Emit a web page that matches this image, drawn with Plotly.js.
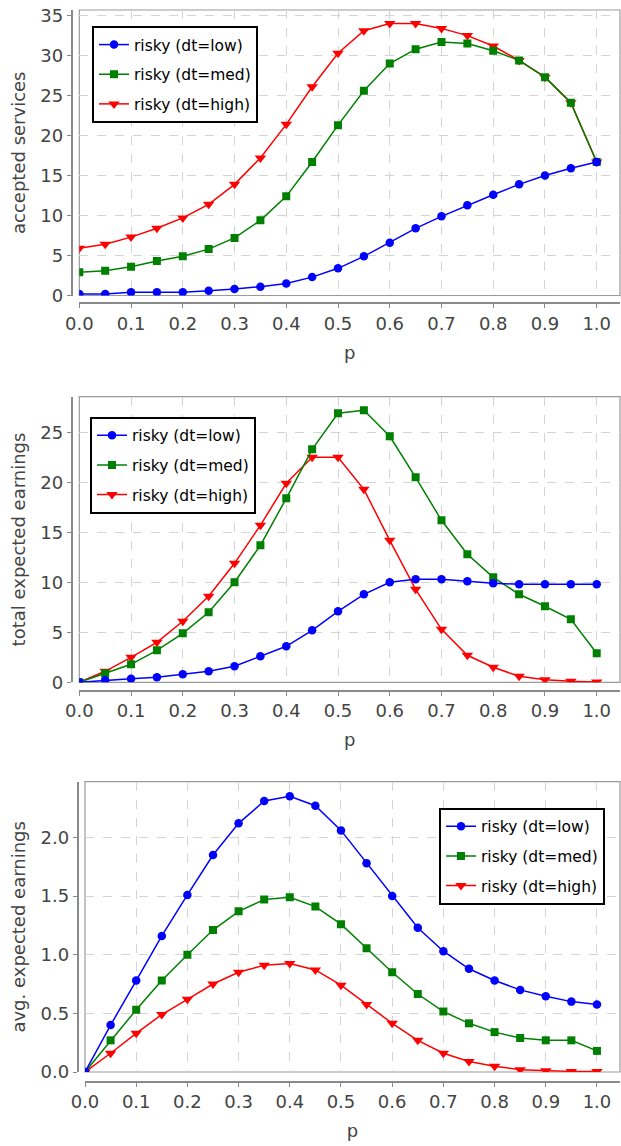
<!DOCTYPE html>
<html>
<head>
<meta charset="utf-8">
<script src="https://cdn.plot.ly/plotly-3.0.1.min.js"></script>
<style>
  html, body { margin: 0; padding: 0; background: #ffffff; }
  #chart { width: 621px; height: 1146px; }
</style>
</head>
<body>
<div id="chart"></div>
<script>
// probability of a risky choice
const pValues = [0.00, 0.05, 0.10, 0.15, 0.20, 0.25, 0.30, 0.35, 0.40, 0.45, 0.50,
                 0.55, 0.60, 0.65, 0.70, 0.75, 0.80, 0.85, 0.90, 0.95, 1.00];

const seriesNames = ['risky (dt=low)', 'risky (dt=med)', 'risky (dt=high)'];

// accepted services
const acceptedLow  = [0.2, 0.2, 0.4, 0.4, 0.4, 0.6, 0.8, 1.1, 1.5, 2.3, 3.4,
                      4.9, 6.6, 8.4, 9.9, 11.3, 12.6, 13.9, 15.0, 15.9, 16.7];
const acceptedMed  = [2.9, 3.1, 3.6, 4.3, 4.9, 5.8, 7.2, 9.4, 12.4, 16.7, 21.3,
                      25.6, 29.0, 30.8, 31.7, 31.5, 30.6, 29.4, 27.3, 24.1, 16.7];
const acceptedHigh = [5.9, 6.4, 7.3, 8.4, 9.7, 11.4, 13.9, 17.2, 21.4, 26.1, 30.3,
                      33.1, 34.0, 34.0, 33.4, 32.5, 31.2, 29.4, 27.3, 24.1, 16.7];

// total expected earnings
const totalLow  = [0.0, 0.2, 0.35, 0.5, 0.8, 1.1, 1.6, 2.6, 3.6, 5.2, 7.1,
                   8.8, 10.0, 10.3, 10.3, 10.1, 9.9, 9.8, 9.8, 9.8, 9.8];
const totalMed  = [0.0, 0.9, 1.8, 3.2, 4.9, 7.0, 10.0, 13.7, 18.4, 23.3, 26.9,
                   27.2, 24.6, 20.5, 16.2, 12.8, 10.5, 8.8, 7.6, 6.3, 2.9];
const totalHigh = [0.0, 1.1, 2.5, 4.0, 6.1, 8.6, 11.9, 15.7, 19.9, 22.5, 22.5,
                   19.3, 14.2, 9.3, 5.3, 2.7, 1.5, 0.6, 0.25, 0.1, 0.03];

// avg. expected earnings
const avgLow  = [0.0, 0.40, 0.78, 1.16, 1.51, 1.85, 2.12, 2.31, 2.35, 2.27, 2.06,
                 1.78, 1.50, 1.23, 1.03, 0.88, 0.78, 0.70, 0.645, 0.60, 0.575];
const avgMed  = [0.0, 0.27, 0.53, 0.78, 1.00, 1.21, 1.37, 1.47, 1.49, 1.41, 1.26,
                 1.055, 0.85, 0.665, 0.515, 0.415, 0.34, 0.29, 0.27, 0.27, 0.18];
const avgHigh = [0.0, 0.16, 0.33, 0.49, 0.62, 0.75, 0.85, 0.91, 0.925, 0.87, 0.74,
                 0.575, 0.415, 0.27, 0.16, 0.09, 0.05, 0.02, 0.01, 0.005, 0.005];

const W = 621, H = 1146;
const FONT = 'DejaVu Sans, sans-serif';
const TICK_GREY = '#444444';
const AXIS_GREY = '#8a8a8a';

const styles = [
  { color: '#0000ff', symbol: 'circle',        size: 8.5 },
  { color: '#008000', symbol: 'square',        size: 8 },
  { color: '#ff0000', symbol: 'triangle-down', size: 10 }
];

function line(y, idx, xa, ya, legendId) {
  const s = styles[idx];
  return {
    type: 'scatter', mode: 'lines+markers',
    x: pValues, y: y, name: seriesNames[idx],
    xaxis: xa, yaxis: ya, legend: legendId,
    legendrank: idx + 1, legendgroup: legendId + '-' + idx,
    line: { color: s.color, width: 1.5 },
    marker: { color: s.color, symbol: s.symbol, size: s.size, line: { width: 0 } },
    hoverinfo: 'x+y+name'
  };
}

// pixel helpers for placing panels on the page
const px = v => v / W;
const py = v => 1 - v / H;

function xAxis(left, bottomLine, title) {
  return {
    domain: [px(left), px(620)], range: [0, 1.045],
    anchor: 'free', position: py(bottomLine),
    tick0: 0, dtick: 0.1, tickformat: '.1f',
    showline: true, linecolor: AXIS_GREY, linewidth: 2,
    ticks: 'outside', ticklen: 4, tickcolor: AXIS_GREY, tickwidth: 1,
    tickfont: { family: FONT, size: 18, color: TICK_GREY },
    showgrid: true, gridcolor: '#d4d4d4', griddash: 'dash', gridwidth: 1,
    zeroline: false, fixedrange: true,
    title: { text: title, font: { family: FONT, size: 18, color: TICK_GREY }, standoff: 12 }
  };
}

function yAxis(axisLineX, top, bottom, maxVal, dtick, fmt, title) {
  return {
    domain: [py(bottom), py(top)], range: [0, maxVal],
    anchor: 'free', position: px(axisLineX),
    tick0: 0, dtick: dtick, tickformat: fmt,
    showline: true, linecolor: AXIS_GREY, linewidth: 2,
    ticks: 'outside', ticklen: 4, tickcolor: AXIS_GREY, tickwidth: 1,
    tickfont: { family: FONT, size: 18, color: TICK_GREY },
    showgrid: true, gridcolor: '#d4d4d4', griddash: 'dash', gridwidth: 1,
    zeroline: false, fixedrange: true,
    title: { text: title, font: { family: FONT, size: 18, color: TICK_GREY }, standoff: 9 }
  };
}

function legendBox(x, y) {
  return {
    x: x, y: y, xanchor: 'left', yanchor: 'top', xref: 'paper', yref: 'paper',
    bgcolor: '#ffffff', bordercolor: '#000000', borderwidth: 2,
    font: { family: FONT, size: 15.5, color: '#000000' },
    traceorder: 'grouped', tracegroupgap: 6.5, itemclick: false, itemdoubleclick: false
  };
}

function frame(xa, ya) {
  return {
    type: 'rect', xref: xa + ' domain', yref: ya + ' domain',
    x0: 0, x1: 1, y0: 0, y1: 1, layer: 'below',
    line: { color: '#9a9a9a', width: 1.2 }
  };
}

// red drawn first, blue last, so low-risk markers sit on top
const data = [
  line(acceptedHigh, 2, 'x', 'y', 'legend'),
  line(acceptedMed,  1, 'x', 'y', 'legend'),
  line(acceptedLow,  0, 'x', 'y', 'legend'),
  line(totalHigh, 2, 'x2', 'y2', 'legend2'),
  line(totalMed,  1, 'x2', 'y2', 'legend2'),
  line(totalLow,  0, 'x2', 'y2', 'legend2'),
  line(avgHigh, 2, 'x3', 'y3', 'legend3'),
  line(avgMed,  1, 'x3', 'y3', 'legend3'),
  line(avgLow,  0, 'x3', 'y3', 'legend3')
];

const layout = {
  width: W, height: H,
  margin: { l: 0, r: 0, t: 0, b: 0, pad: 0 },
  paper_bgcolor: '#ffffff', plot_bgcolor: '#ffffff',
  font: { family: FONT, color: TICK_GREY },
  showlegend: true,
  xaxis:  xAxis(79.3, 303.3, 'p'),
  yaxis:  yAxis(71.7, 10, 295.5, 35.7, 5, 'd', 'accepted services'),
  xaxis2: xAxis(79.3, 690.7, 'p'),
  yaxis2: yAxis(71.7, 396.7, 682.3, 28.56, 5, 'd', 'total expected earnings'),
  xaxis3: xAxis(85, 1081.5, 'p'),
  yaxis3: yAxis(77.7, 781.7, 1072, 2.475, 0.5, '.1f', 'avg. expected earnings'),
  legend:  legendBox(px(92), py(26)),
  legend2: legendBox(px(90), py(416.7)),
  legend3: legendBox(px(439), py(807.7)),
  shapes: [frame('x', 'y'), frame('x2', 'y2'), frame('x3', 'y3')]
};

Plotly.newPlot('chart', data, layout, { displayModeBar: false, responsive: false });
</script>
</body>
</html>
